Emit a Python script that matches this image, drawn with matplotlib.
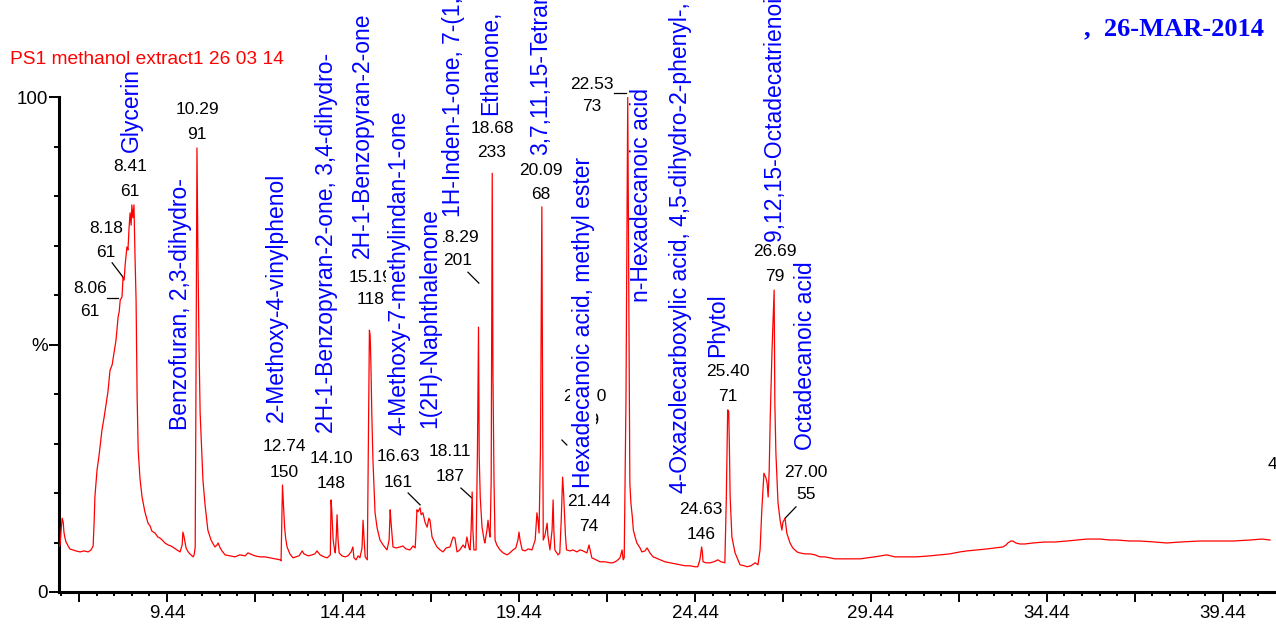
import numpy as np
import matplotlib
matplotlib.use('Agg')
import matplotlib.pyplot as plt
from matplotlib.ticker import FixedLocator, FixedFormatter

plt.rcParams['font.family'] = ['Liberation Sans', 'DejaVu Sans']

# ---------------- chromatogram trace (retention time [min], relative abundance [%]) ----------------
rt_early = [6.34, 6.40, 6.43, 6.46, 6.49, 6.51, 6.54, 6.57, 6.63, 6.68, 6.77, 6.85, 6.97, 7.08, 7.20, 7.28, 7.31,
            7.34, 7.37, 7.39, 7.45, 7.51, 7.59, 7.65, 7.74, 7.76, 7.82, 7.88, 7.96, 7.99, 8.05, 8.08, 8.11, 8.16,
            8.19, 8.22, 8.25, 8.30, 8.33, 8.36, 8.39, 8.42, 8.44, 8.47, 8.50,
            8.53, 8.56, 8.59, 8.62, 8.67, 8.73, 8.81, 8.90, 8.96, 9.01, 9.10, 9.18, 9.24, 9.33, 9.38, 9.47, 9.55,
            9.64, 9.72, 9.81,
            9.87, 9.89, 9.92, 9.98, 10.04, 10.09, 10.18, 10.21, 10.24,
            10.26, 10.29, 10.32, 10.35, 10.38, 10.43, 10.46, 10.52, 10.60, 10.69, 10.80, 10.86, 10.89, 10.95,
            11.00, 11.09, 11.23, 11.37]
ab_early = [8.9, 9.5, 12.5, 14.9, 14.1, 12.1, 10.9, 10.1, 9.3, 8.7, 8.5, 8.3, 8.1, 8.3, 8.1, 8.5, 8.9,
            9.3, 14.5, 19.2, 24.6, 27.7, 32.7, 35.2, 39.4, 40.4, 44.8, 45.9, 49.5, 50.9, 55.6, 56.6, 59.0, 59.6,
            63.6, 63.0, 66.1, 69.7, 69.1, 73.5, 76.6, 74.1, 78.2, 75.6, 78.2,
            67.7, 59.0, 39.4, 28.7, 23.0, 19.2, 16.2, 13.9, 13.3, 12.3, 11.9, 11.1, 10.9, 10.3, 9.9, 9.5, 9.3,
            8.9, 8.5, 8.1,
            9.5, 12.1, 11.3, 8.9, 8.1, 7.7, 7.1, 7.5, 9.1,
            38.8, 89.7, 66.5, 48.9, 36.2, 27.7, 22.6, 17.6, 12.5, 10.5, 9.1, 9.5, 9.9, 8.9,
            8.3, 7.5, 7.3, 7.1]

rt_mid = [11.51, 11.66, 11.74, 11.80, 11.94, 12.08, 12.22, 12.37, 12.51, 12.65, 12.68,
          12.72, 12.76, 12.78, 12.81, 12.85, 12.93, 13.02, 13.10, 13.19, 13.28, 13.33, 13.45, 13.56, 13.64,
          13.70, 13.79, 13.90, 13.99, 14.05, 14.08,
          14.10, 14.12, 14.16, 14.20, 14.22, 14.25, 14.27, 14.30, 14.33, 14.41, 14.50, 14.58, 14.67, 14.72,
          14.75, 14.81, 14.87, 14.92, 14.98, 15.01, 15.04, 15.07, 15.13,
          15.19, 15.21, 15.23, 15.26, 15.29, 15.35, 15.41, 15.49, 15.58, 15.69, 15.75, 15.78, 15.80, 15.83,
          15.86, 15.95, 16.06, 16.14, 16.23, 16.34, 16.43, 16.49, 16.51, 16.54, 16.57, 16.63, 16.66, 16.71,
          16.77, 16.83, 16.88, 16.91, 16.97, 17.05, 17.11, 17.20, 17.28, 17.37, 17.48, 17.54, 17.57, 17.62,
          17.68, 17.76, 17.85, 17.91, 17.96, 18.02, 18.05]
ab_mid = [7.5, 7.3, 7.9, 7.7, 7.3, 7.1, 7.1, 6.9, 6.7, 6.5, 6.3,
          21.6, 16.0, 13.1, 10.9, 9.1, 7.7, 6.9, 7.1, 7.3, 8.3, 7.7, 7.3, 7.5, 7.7,
          8.3, 7.5, 7.1, 6.9, 7.3, 7.5,
          18.6, 16.6, 10.5, 8.5, 7.9, 11.5, 15.6, 10.5, 7.9, 7.3, 7.1, 7.3, 8.1, 9.1,
          6.9, 6.5, 7.3, 6.9, 8.9, 14.5, 10.5, 7.1, 6.5,
          52.9, 51.9, 46.9, 35.4, 26.7, 16.0, 12.9, 10.5, 9.5, 8.5, 10.5, 16.6, 14.5, 11.9,
          9.1, 8.9, 9.1, 9.3, 8.7, 8.5, 9.3, 8.9, 11.5, 16.6, 16.2, 17.0, 15.6, 16.0,
          14.1, 13.1, 14.9, 14.5, 11.1, 9.9, 9.1, 8.5, 8.1, 8.9, 9.1, 10.5, 11.1, 10.9,
          8.1, 8.5, 9.5, 8.9, 11.1, 8.9, 8.5]

rt_late = [18.08, 18.11, 18.13, 18.16, 18.22, 18.26, 18.29, 18.31, 18.34, 18.39, 18.45, 18.47, 18.53, 18.56,
           18.59, 18.62, 18.65, 18.68, 18.70, 18.73, 18.76, 18.81, 18.90, 18.99, 19.10, 19.18, 19.27, 19.35,
           19.41, 19.44, 19.47, 19.53, 19.61, 19.70, 19.81, 19.90, 19.95, 19.98, 20.01, 20.05,
           20.09, 20.11, 20.13, 20.18, 20.24, 20.26, 20.32, 20.38, 20.41, 20.43, 20.46, 20.55, 20.60, 20.64,
           20.68, 20.71, 20.73, 20.76, 20.79, 20.89, 20.97, 21.09, 21.17, 21.26, 21.37, 21.43, 21.46, 21.51,
           21.63, 21.74, 21.88, 22.03, 22.11, 22.22, 22.31, 22.37, 22.40, 22.43,
           22.48, 22.53, 22.56, 22.59, 22.62, 22.66, 22.69, 22.74, 22.79, 22.88, 22.93, 23.02, 23.08, 23.16,
           23.25, 23.45, 23.59, 23.73, 23.87, 24.01, 24.16, 24.30, 24.44, 24.52, 24.58,
           24.63, 24.65, 24.67, 24.75, 24.87, 24.98, 25.09, 25.18, 25.29, 25.33,
           25.37, 25.40, 25.42, 25.44, 25.49, 25.58, 25.66, 25.72, 25.84, 25.92, 26.03, 26.15, 26.23, 26.29,
           26.34, 26.40, 26.46, 26.49, 26.52, 26.55, 26.58, 26.63,
           26.69, 26.71, 26.74, 26.80, 26.86, 26.91, 26.94, 27.00, 27.05, 27.14, 27.22, 27.34, 27.42]
ab_late = [12.5, 20.2, 12.5, 8.5, 8.5, 28.7, 53.5, 27.3, 19.0, 13.1, 10.5, 9.9, 12.5, 14.5,
           12.5, 11.1, 22.6, 84.6, 44.2, 22.6, 10.5, 9.5, 8.5, 7.9, 7.5, 7.9, 8.5, 8.9,
           10.5, 12.1, 10.5, 8.5, 8.3, 8.7, 8.5, 10.5, 16.0, 14.5, 11.9, 28.7,
           77.8, 40.2, 10.5, 11.5, 13.9, 11.5, 8.5, 12.5, 18.6, 12.5, 8.5, 7.5, 7.9, 14.5,
           23.2, 19.6, 16.2, 11.5, 8.5, 8.3, 8.5, 8.1, 8.5, 8.3, 7.9, 9.5, 8.5, 6.9,
           6.5, 6.1, 6.1, 5.9, 5.9, 6.3, 6.9, 8.5, 6.5, 6.9,
           38.8, 100.0, 59.0, 22.0, 18.0, 15.2, 12.5, 11.1, 9.9, 8.9, 8.1, 8.3, 8.9, 7.9,
           7.1, 6.5, 6.1, 5.9, 5.7, 5.5, 5.3, 5.3, 5.1, 5.1, 6.5,
           9.1, 8.1, 6.1, 5.9, 5.9, 6.1, 6.5, 6.1, 5.9, 18.6,
           36.8, 36.4, 28.7, 19.2, 11.1, 7.9, 6.5, 5.5, 5.3, 5.1, 5.3, 5.9, 5.5, 8.5,
           16.6, 24.0, 23.0, 22.0, 19.2, 24.6, 35.4, 48.9,
           61.0, 38.2, 28.1, 18.0, 14.5, 12.5, 14.1, 14.9, 11.9, 9.9, 8.9, 8.1, 7.9]

rt_tail = [27.56, 27.71, 27.85, 27.99, 28.13, 28.28, 28.42, 28.56, 28.84, 29.13, 29.33, 29.55, 29.89, 30.12,
           30.41, 30.75, 31.12, 31.40, 31.68, 31.97, 32.17, 32.45, 32.74, 32.96, 33.19, 33.28, 33.33, 33.42,
           33.47, 33.56, 33.67, 33.81, 34.04, 34.38, 34.67, 35.01, 35.29, 35.58, 35.95, 36.23, 36.43, 36.80,
           37.08, 37.51, 37.85, 38.22, 38.79, 39.21, 39.73, 40.21, 40.55, 40.78]
ab_tail = [7.7, 7.7, 7.5, 7.1, 7.1, 6.9, 6.7, 6.7, 6.7, 6.7, 6.9, 7.1, 7.5, 7.1,
           7.1, 7.1, 7.3, 7.5, 7.7, 8.1, 8.3, 8.5, 8.7, 8.9, 9.1, 9.5, 9.9, 10.3,
           10.3, 9.9, 9.7, 9.7, 9.9, 10.1, 10.1, 10.3, 10.5, 10.7, 10.7, 10.5, 10.5, 10.3,
           10.3, 10.1, 9.9, 10.1, 10.3, 10.3, 10.3, 10.5, 10.7, 10.5]

rt = np.array(rt_early + rt_mid + rt_late + rt_tail)
abundance = np.array(ab_early + ab_mid + ab_late + ab_tail)

# ---------------- peak annotations (retention time, base m/z) ----------------
peak_times = ['8.06', '8.18', '8.41', '10.29', '12.74', '14.10', '15.19', '16.63', '18.11', '18.29',
              '18.68', '20.09', '22.53', '20.70', '21.44', '24.63', '25.40', '26.69', '27.00', '40.85']
peak_mz = ['61', '61', '61', '91', '150', '148', '118', '161', '187', '201',
           '233', '68', '73', '149', '74', '146', '71', '79', '55', '55']
# label anchor (x in min, y of the two text lines in %)
label_x = [7.25, 7.71, 8.39, 10.29, 12.76, 14.10, 15.21, 16.00, 17.48, 17.70,
           18.67, 20.07, 21.51, 21.31, 21.43, 24.61, 25.38, 26.71, 27.59, 41.33]
label_y1 = [61.4, 73.5, 85.9, 97.4, 29.3, 26.9, 63.6, 27.3, 28.3, 71.7,
            93.7, 85.1, 102.6, 39.4, 18.2, 16.6, 44.6, 68.7, 24.2, 25.7]
label_y2 = [56.6, 68.5, 81.0, 92.5, 24.2, 22.0, 59.0, 22.2, 23.4, 66.9,
            88.7, 80.4, 98.0, 34.7, 13.3, 11.7, 39.4, 63.8, 19.6, 20.8]
leaders = [((7.74, 59.4), (8.05, 59.4)), ((7.88, 66.5), (8.19, 63.6)), ((16.29, 20.0), (16.63, 17.6)),
           ((17.79, 21.0), (18.10, 19.0)), ((17.99, 64.6), (18.30, 62.4)), ((22.14, 100.8), (22.48, 100.8)),
           ((20.66, 30.7), (20.80, 29.7)), ((27.31, 17.2), (27.00, 14.9))]

compound_names = ['Glycerin', 'Benzofuran, 2,3-dihydro-', '2-Methoxy-4-vinylphenol',
                  '2H-1-Benzopyran-2-one, 3,4-dihydro-', '2H-1-Benzopyran-2-one',
                  '4-Methoxy-7-methylindan-1-one', '1(2H)-Naphthalenone',
                  '1H-Inden-1-one, 7-(1,1-dimethylethyl)-2,3-dihydro-',
                  'Ethanone,',
                  '3,7,11,15-Tetramethyl-2-hexadecen-1-ol', 'Hexadecanoic acid, methyl ester',
                  'n-Hexadecanoic acid', '4-Oxazolecarboxylic acid, 4,5-dihydro-2-phenyl-, 1-methylethyl ester',
                  'Phytol', '9,12,15-Octadecatrienoic acid, (Z,Z,Z)-', 'Octadecanoic acid']
name_x = [8.42, 9.81, 12.56, 13.96, 14.98, 16.03, 16.91, 17.59, 18.64, 20.04, 21.26, 22.93, 24.04,
          25.09, 26.74, 27.59]
name_y = [88.9, 32.7, 34.3, 32.1, 67.5, 31.7, 33.1, 75.8, 96.4, 88.3, 21.0, 58.6, 20.0, 47.5, 70.7, 28.7]

# ---------------- figure ----------------
W, H = 1276, 626
fig = plt.figure(figsize=(W / 100, H / 100), dpi=100)
ax = fig.add_axes([59 / W, 1 - 592 / H, 1 - 59 / W, (592 - 97) / H])

ax.plot(rt, abundance, color='#ff0000', lw=0.9, zorder=6)
ax.set_xlim(6.37, 40.95)
ax.set_ylim(0, 100)

for s in ['top', 'right']:
    ax.spines[s].set_visible(False)
for s in ['left', 'bottom']:
    ax.spines[s].set_linewidth(2.2)
    ax.spines[s].set_capstyle('projecting')

major_x = list(np.arange(6.94, 40.9, 2.5))
minor_x = [v for v in np.arange(6.44, 40.9, 0.5) if min(abs(v - m) for m in major_x) > 0.01]
major_lbl = [f'{v:.2f}' if abs(((v - 9.44) / 5) - round((v - 9.44) / 5)) < 1e-6 else '' for v in major_x]
ax.xaxis.set_major_locator(FixedLocator(major_x))
ax.xaxis.set_major_formatter(FixedFormatter(major_lbl))
ax.xaxis.set_minor_locator(FixedLocator(minor_x))
ax.yaxis.set_major_locator(FixedLocator([0, 50, 100]))
ax.yaxis.set_major_formatter(FixedFormatter(['0', '%', '100']))
ax.yaxis.set_minor_locator(FixedLocator([10, 20, 30, 40, 60, 70, 80, 90]))
ax.tick_params(axis='x', which='major', length=7, width=1.4, direction='out', labelsize=13.5, pad=2)
ax.tick_params(axis='x', which='minor', length=3.2, width=1.4, direction='out')
ax.tick_params(axis='y', which='major', length=7, width=1.4, direction='out', labelsize=13.5, pad=1)
ax.tick_params(axis='y', which='minor', length=3.5, width=1.4, direction='out')

# black peak labels
for t1, t2, x, y1, y2 in zip(peak_times, peak_mz, label_x, label_y1, label_y2):
    ax.text(x, y1, t1, ha='center', va='center', fontsize=12.5, color='black', zorder=4, clip_on=False)
    ax.text(x, y2, t2, ha='center', va='center', fontsize=12.5, color='black', zorder=4, clip_on=False)
for (x0, y0), (x1, y1) in leaders:
    ax.plot([x0, x1], [y0, y1], color='black', lw=0.9, clip_on=False, zorder=4)

# blue compound names (white background that masks the black labels beneath)
for name, x, y in zip(compound_names, name_x, name_y):
    ax.text(x, y, name, rotation=90, ha='center', va='bottom', fontsize=16.5, color='#0000ff', zorder=5,
            clip_on=False, bbox=dict(facecolor='white', edgecolor='none', pad=1.2))

fig.text(10 / W, 1 - 60 / H, 'PS1 methanol extract1 26 03 14', color='#ff0000', fontsize=13.8,
         ha='left', va='center')
fig.text(1264 / W, 1 - 29 / H, ',  26-MAR-2014', color='#0000ff', fontsize=19, fontweight='bold',
         family='Liberation Serif', ha='right', va='center')

fig.savefig('out.png', dpi=100)
